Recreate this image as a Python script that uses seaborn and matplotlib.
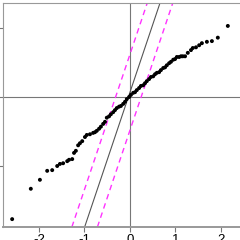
import matplotlib
matplotlib.use("Agg")
import matplotlib.pyplot as plt
import seaborn as sns
import pandas as pd

theoretical = [-2.59, -2.18, -1.98, -1.82, -1.71, -1.60, -1.54, -1.47, -1.38, -1.34,
               -1.27, -1.23, -1.19, -1.14, -1.10, -1.05, -0.99, -0.95, -0.88, -0.81,
               -0.77, -0.73, -0.68, -0.64, -0.59, -0.55, -0.51, -0.46, -0.42, -0.37,
               -0.33, -0.29, -0.24, -0.20, -0.15, -0.11, -0.07, -0.02, 0.02, 0.07,
               0.11, 0.15, 0.20, 0.24, 0.29, 0.33, 0.37, 0.42, 0.46, 0.51,
               0.55, 0.59, 0.64, 0.68, 0.73, 0.77, 0.81, 0.86, 0.90, 0.95,
               0.99, 1.03, 1.08, 1.12, 1.16, 1.21, 1.27, 1.34, 1.38, 1.45,
               1.52, 1.58, 1.69, 1.80, 1.93, 2.15]
sample = [-1.77, -1.33, -1.20, -1.07, -1.06, -1.00, -0.97, -0.96, -0.93, -0.91,
          -0.90, -0.81, -0.78, -0.70, -0.67, -0.64, -0.58, -0.55, -0.54, -0.52,
          -0.51, -0.49, -0.46, -0.43, -0.39, -0.36, -0.30, -0.28, -0.25, -0.22,
          -0.19, -0.16, -0.14, -0.13, -0.10, -0.07, -0.03, 0.00, 0.03, 0.06,
          0.07, 0.10, 0.13, 0.16, 0.17, 0.20, 0.23, 0.26, 0.29, 0.30,
          0.33, 0.35, 0.36, 0.39, 0.42, 0.43, 0.46, 0.49, 0.51, 0.54,
          0.55, 0.58, 0.58, 0.59, 0.59, 0.59, 0.64, 0.68, 0.71, 0.72,
          0.75, 0.78, 0.80, 0.81, 0.86, 1.03]

ref_slope = 1.96
ref_intercept = 0.07
band_intercepts = [0.62, -0.48]

x_ticks = [-2, -1, 0, 1, 2]
x_tick_labels = ["-2", "-1", "0", "1", "2"]
y_ticks = [-1, 0, 1]

df = pd.DataFrame({"theoretical": theoretical, "sample": sample})

sns.set_style("white")
plt.rcParams['font.family'] = ['Liberation Sans', 'DejaVu Sans']

fig = plt.figure(figsize=(2.4, 2.4), dpi=100)
W = 240.0
left_px, right_px, top_px, bottom_px = 3.0, 246.0, 2.7, 227.0
ax = fig.add_axes([left_px / W, (W - bottom_px) / W, (right_px - left_px) / W, (bottom_px - top_px) / W])

xs_per_px = 1 / 45.5
ys_per_px = 1 / 69.0
ax.set_xlim((left_px - 130) * xs_per_px, (right_px - 130) * xs_per_px)
ax.set_ylim((97 - bottom_px) * ys_per_px, (97 - top_px) * ys_per_px)

ax.axhline(0, color="#777777", lw=0.8, zorder=1)
ax.axvline(0, color="#777777", lw=0.8, zorder=1)
ax.axline((0, ref_intercept), slope=ref_slope, color="#555555", lw=0.8, zorder=2)
for b in band_intercepts:
    ax.axline((0, b), slope=ref_slope, color="#FF33FF", lw=1.0, ls=(0, (4, 3)), zorder=2)

sns.scatterplot(data=df, x="theoretical", y="sample", ax=ax, s=8, color="black",
                edgecolor="none", linewidth=0, zorder=3)

ax.set_xlabel("")
ax.set_ylabel("")
ax.set_xticks(x_ticks)
ax.set_xticklabels(x_tick_labels)
ax.set_yticks(y_ticks)
ax.set_yticklabels([str(v) for v in y_ticks])
ax.tick_params(axis="both", length=3.5, width=0.8, color="#777777", labelsize=9.5,
               labelcolor="black", pad=1.5, direction="out")
ax.tick_params(axis="x", bottom=True)
ax.tick_params(axis="y", left=True)
for name, sp in ax.spines.items():
    sp.set_color("#999999")
    sp.set_linewidth(0.8)
ax.spines["bottom"].set_linewidth(1.4)

fig.savefig("out.png", dpi=100)
